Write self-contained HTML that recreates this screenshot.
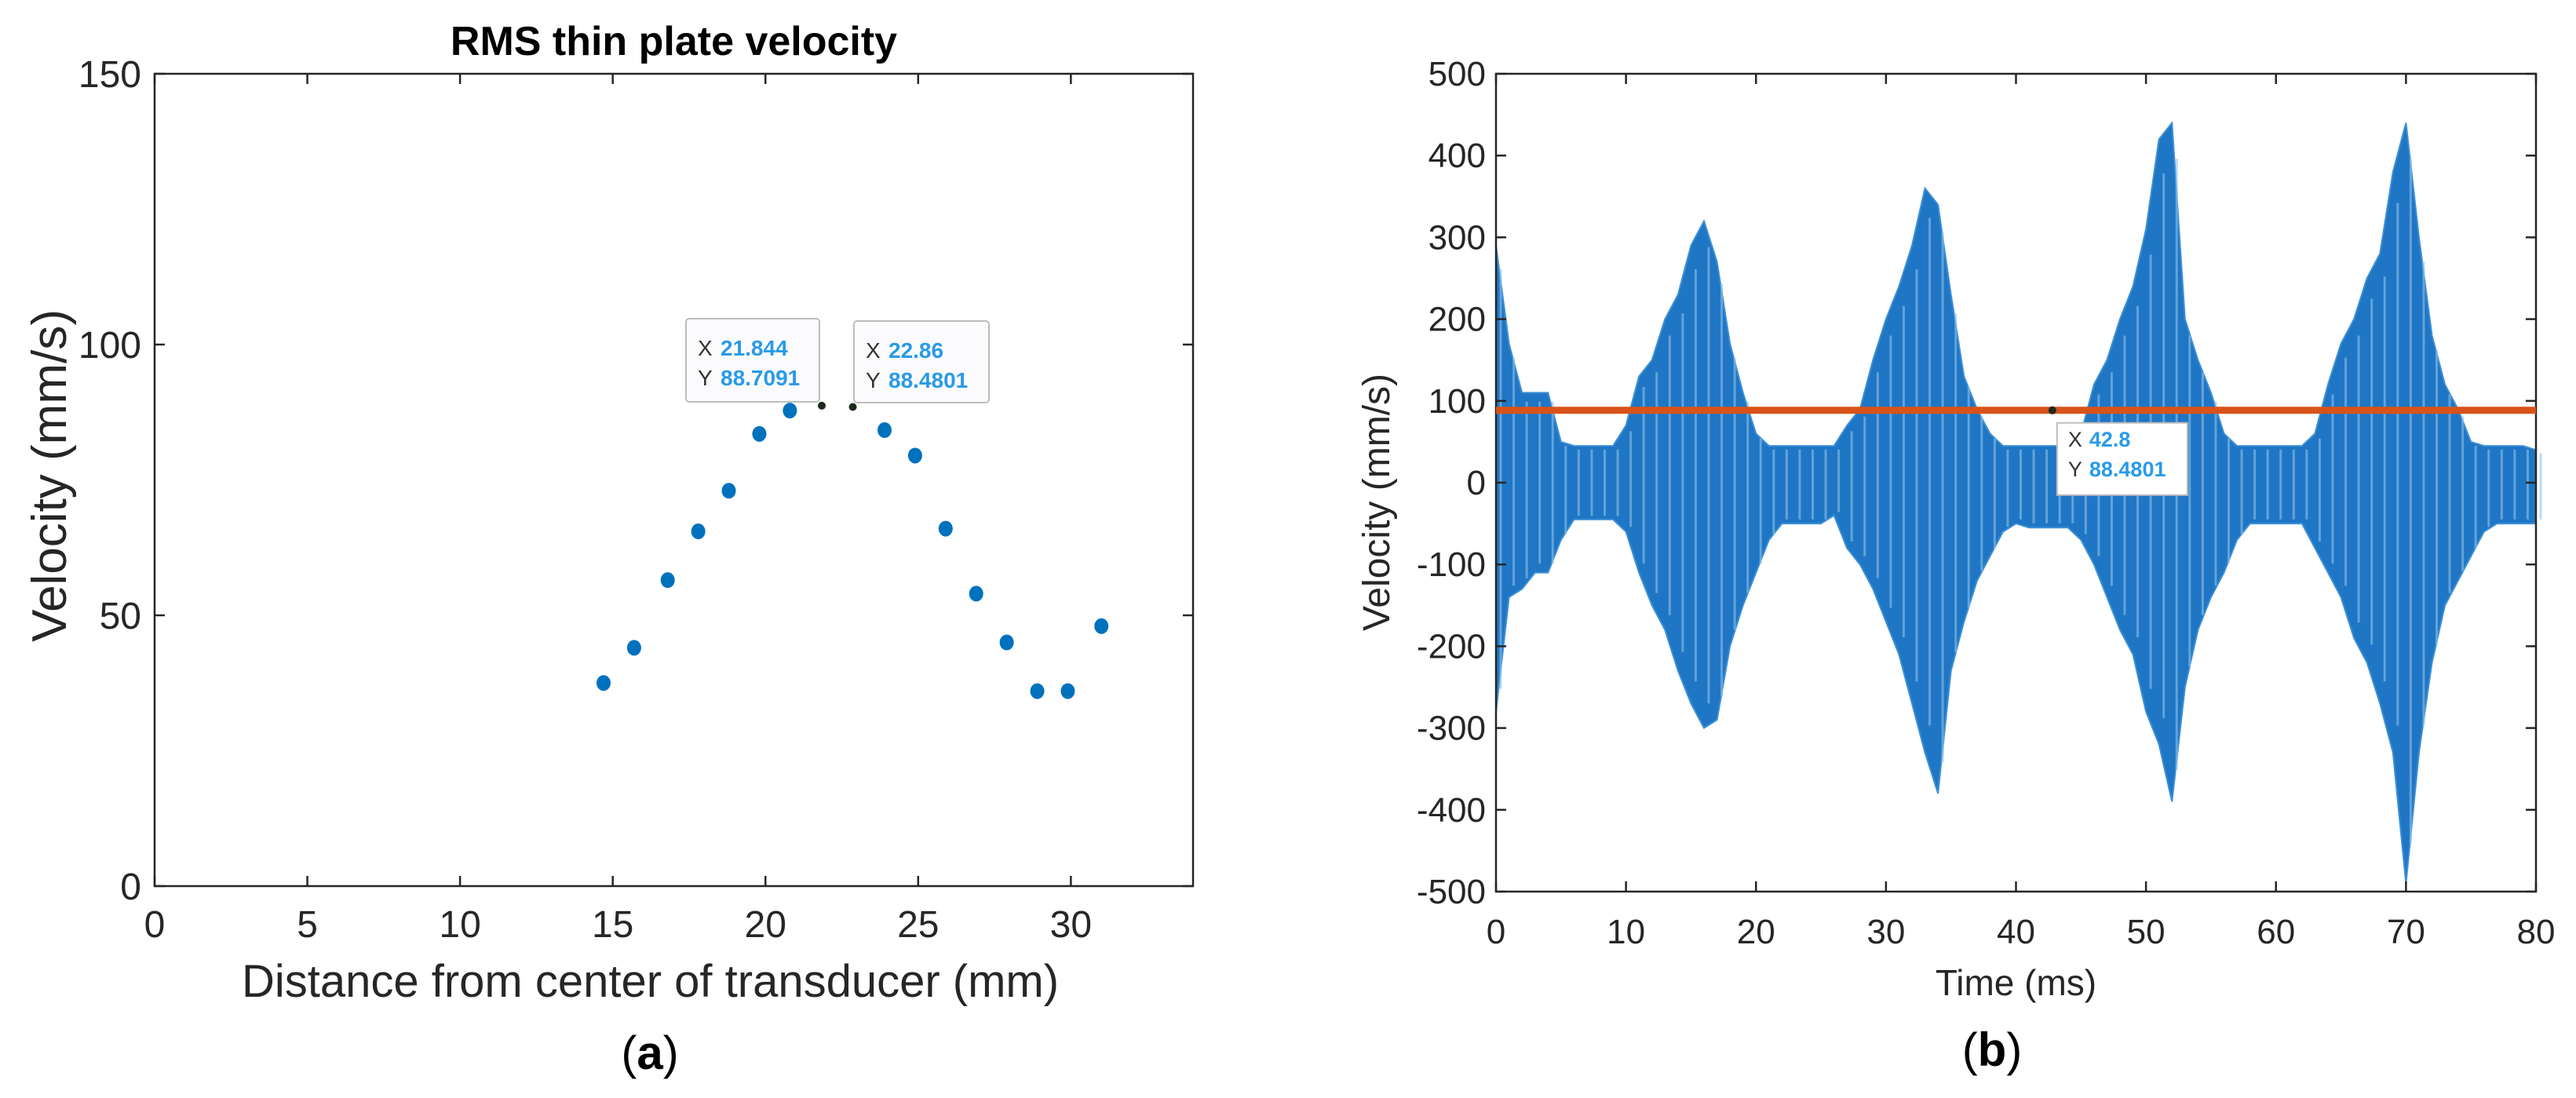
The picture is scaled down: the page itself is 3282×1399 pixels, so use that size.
<!DOCTYPE html>
<html><head><meta charset="utf-8">
<style>
html,body{margin:0;padding:0;background:#fff;}
svg{display:block;}
text{font-family:"Liberation Sans",Arial,sans-serif;}
</style></head>
<body>
<svg id="fig" width="3282" height="1399" viewBox="0 0 3282 1399" xmlns="http://www.w3.org/2000/svg">
  <rect width="3282" height="1399" fill="#fff"/>
  <g id="left"></g>
  <g id="right"></g>
</svg>
<script>
// ---------- Chart (a) data ----------
const distX = [14.7, 15.7, 16.8, 17.8, 18.8, 19.8, 20.8, 23.9, 24.9, 25.9, 26.9, 27.9, 28.9, 29.9, 31.0];
const rmsY  = [37.5, 44.0, 56.5, 65.5, 73.0, 83.5, 87.8, 84.2, 79.5, 66.0, 54.0, 45.0, 36.0, 36.0, 48.0];
const tipX  = [21.844, 22.86];
const tipY  = [88.7091, 88.4801];
const aXTicks = [0, 5, 10, 15, 20, 25, 30];
const aYTicks = [0, 50, 100, 150];

// ---------- Chart (b) data ----------
const timeMs = [0,1,2,3,4,5,6,7,8,9,10,11,12,13,14,15,16,17,18,19,20,21,22,23,24,25,26,27,28,29,30,31,32,33,34,35,36,37,38,39,40,41,42,43,44,45,46,47,48,49,50,51,52,53,54,55,56,57,58,59,60,61,62,63,64,65,66,67,68,69,70,71,72,73,74,75,76,77,78,79,80];
const envUpper = [290,170,110,110,110,50,45,45,45,45,70,130,150,200,230,290,320,270,170,110,60,45,45,45,45,45,45,70,90,150,200,240,290,360,340,230,130,90,60,45,45,45,45,45,45,60,120,150,200,240,310,420,440,200,150,110,60,45,45,45,45,45,45,60,120,170,200,250,280,380,440,300,180,120,90,50,45,45,45,45,40];
const envLower = [-280,-140,-130,-110,-110,-70,-45,-45,-45,-45,-60,-110,-150,-180,-230,-270,-300,-290,-200,-150,-110,-70,-50,-50,-50,-50,-40,-80,-100,-130,-170,-210,-270,-330,-380,-230,-170,-120,-90,-60,-50,-55,-55,-55,-55,-70,-100,-140,-180,-210,-280,-320,-390,-250,-180,-140,-110,-70,-50,-50,-50,-50,-50,-80,-110,-140,-190,-220,-270,-330,-490,-330,-220,-150,-120,-90,-60,-50,-50,-50,-50];
const rmsLevel = [88.4801];
const cursorX = [42.8];
const bXTicks = [0,10,20,30,40,50,60,70,80];
const bYTicks = [-500,-400,-300,-200,-100,0,100,200,300,400,500];

const NS = "http://www.w3.org/2000/svg";
function mk(parent, tag, attrs, txt){
  const e = document.createElementNS(NS, tag);
  for (const k in attrs) e.setAttribute(k, attrs[k]);
  if (txt !== undefined) e.textContent = txt;
  parent.appendChild(e);
  return e;
}

// ===== Chart (a) =====
(function(){
  const g = document.getElementById('left');
  const L=197, R=1520, T=94, B=1129, xmax=34, ymax=150;
  const sx = v => L + v/xmax*(R-L);
  const sy = v => B - v/ymax*(B-T);
  const title = mk(g,'text',{x:(L+R)/2, y:70, 'text-anchor':'middle','font-size':52,'font-weight':'bold',fill:'#000'},'RMS thin plate velocity');
  
  
  const box = mk(g,'rect',{x:L,y:T,width:R-L,height:B-T,fill:'none',stroke:'#262626','stroke-width':2.5});
  
  
  aXTicks.forEach(v=>{
    const x=sx(v);
    mk(g,'line',{x1:x,y1:B,x2:x,y2:B-13,stroke:'#262626','stroke-width':2.5});
    mk(g,'line',{x1:x,y1:T,x2:x,y2:T+13,stroke:'#262626','stroke-width':2.5});
    const t=mk(g,'text',{x:x,y:1194,'text-anchor':'middle','font-size':48,fill:'#262626'},String(v));
    
    
  });
  aYTicks.forEach(v=>{
    const y=sy(v);
    mk(g,'line',{x1:L,y1:y,x2:L+13,y2:y,stroke:'#262626','stroke-width':2.5});
    mk(g,'line',{x1:R,y1:y,x2:R-13,y2:y,stroke:'#262626','stroke-width':2.5});
    const t=mk(g,'text',{x:180,y:y+17,'text-anchor':'end','font-size':48,fill:'#262626'},String(v));
    
    
  });
  const xl=mk(g,'text',{x:(L+R)/2-30,y:1270,'text-anchor':'middle','font-size':58,fill:'#262626'},'Distance from center of transducer (mm)');
  
  
  const yl=mk(g,'text',{x:0,y:0,'text-anchor':'middle','font-size':62,fill:'#262626',transform:'translate(84,606) rotate(-90)'},'Velocity (mm/s)');
  
  
  distX.forEach((v,i)=>{
    const c=mk(g,'ellipse',{cx:sx(v),cy:sy(rmsY[i]),rx:9,ry:10,fill:'#0072BD'});
    
    
  });
  tipX.forEach((v,i)=>{
    const c=mk(g,'circle',{cx:sx(v),cy:sy(tipY[i]),r:5,fill:'#1d2a1d'});
    
    
  });
  const boxes=[[874,406,170,106],[1088,409,172,104]];
  tipX.forEach((v,i)=>{
    const b=boxes[i];
    const tg=mk(g,'g',{});
    
    
    mk(tg,'rect',{x:b[0],y:b[1],width:b[2],height:b[3],rx:4,fill:'#fbfbfd',stroke:'#bdbdbd','stroke-width':2});
    mk(tg,'text',{x:b[0]+15,y:b[1]+47,'font-size':28,fill:'#333'},'X');
    mk(tg,'text',{x:b[0]+44,y:b[1]+47,'font-size':28,'font-weight':'bold',fill:'#2a9ae8'},String(v));
    mk(tg,'text',{x:b[0]+15,y:b[1]+85,'font-size':28,fill:'#333'},'Y');
    mk(tg,'text',{x:b[0]+44,y:b[1]+85,'font-size':28,'font-weight':'bold',fill:'#2a9ae8'},String(tipY[i]));
  });
  const cap=mk(g,'text',{x:828,y:1362,'text-anchor':'middle','font-size':60,fill:'#000','font-family':'"Liberation Serif",serif'},'');
  
  
  mk(cap,'tspan',{},'(');
  mk(cap,'tspan',{'font-weight':'bold'},'a');
  mk(cap,'tspan',{},')');
})();

// ===== Chart (b) =====
(function(){
  const g = document.getElementById('right');
  const L=1906, R=3231, T=94, B=1136, xmin=0, xmax=80, ymin=-500, ymax=500;
  const sx = v => L + (v-xmin)/(xmax-xmin)*(R-L);
  const sy = v => B - (v-ymin)/(ymax-ymin)*(B-T);
  let d='M'+sx(timeMs[0])+','+sy(envUpper[0]);
  timeMs.forEach((t,i)=>{ d+=' L'+sx(t)+','+sy(envUpper[i]); });
  for(let i=timeMs.length-1;i>=0;i--){ d+=' L'+sx(timeMs[i])+','+sy(envLower[i]); }
  d+=' Z';
  const wf=mk(g,'path',{d:d,fill:'#1f76c4',stroke:'#3d8fd6','stroke-width':2});
  
  
  timeMs.forEach((t,i)=>{
    const ln=mk(g,'line',{x1:sx(t)+6,y1:sy(envUpper[i]*0.9),x2:sx(t)+6,y2:sy(envLower[i]*0.9),stroke:'#8fc1ea','stroke-width':3,opacity:0.6});
    
    
  });
  const box=mk(g,'rect',{x:L,y:T,width:R-L,height:B-T,fill:'none',stroke:'#262626','stroke-width':2.5});
  
  
  bXTicks.forEach(v=>{
    const x=sx(v);
    mk(g,'line',{x1:x,y1:B,x2:x,y2:B-13,stroke:'#262626','stroke-width':2.5});
    mk(g,'line',{x1:x,y1:T,x2:x,y2:T+13,stroke:'#262626','stroke-width':2.5});
    const t=mk(g,'text',{x:x,y:1202,'text-anchor':'middle','font-size':44,fill:'#262626'},String(v));
    
    
  });
  bYTicks.forEach(v=>{
    const y=sy(v);
    mk(g,'line',{x1:L,y1:y,x2:L+13,y2:y,stroke:'#262626','stroke-width':2.5});
    mk(g,'line',{x1:R,y1:y,x2:R-13,y2:y,stroke:'#262626','stroke-width':2.5});
    const t=mk(g,'text',{x:1893,y:y+15,'text-anchor':'end','font-size':44,fill:'#262626'},String(v));
    
    
  });
  const ry=sy(rmsLevel[0]);
  const rl=mk(g,'line',{x1:L,y1:ry,x2:R,y2:ry,stroke:'#D95319','stroke-width':9});
  
  
  const cx=sx(cursorX[0]);
  const mkr=mk(g,'circle',{cx:cx,cy:ry,r:5,fill:'#1d2a1d'});
  
  
  const tg=mk(g,'g',{});
  
  
  mk(tg,'rect',{x:cx+6,y:ry+16,width:166,height:92,fill:'#fff',stroke:'#bdbdbd','stroke-width':2});
  mk(tg,'text',{x:cx+20,y:ry+46,'font-size':27,fill:'#333'},'X');
  mk(tg,'text',{x:cx+47,y:ry+46,'font-size':27,'font-weight':'bold',fill:'#2a9ae8'},String(cursorX[0]));
  mk(tg,'text',{x:cx+20,y:ry+84,'font-size':27,fill:'#333'},'Y');
  mk(tg,'text',{x:cx+47,y:ry+84,'font-size':27,'font-weight':'bold',fill:'#2a9ae8'},String(rmsLevel[0]));
  const xl=mk(g,'text',{x:(L+R)/2,y:1268,'text-anchor':'middle','font-size':46,fill:'#262626'},'Time (ms)');
  
  
  const yl=mk(g,'text',{x:0,y:0,'text-anchor':'middle','font-size':48,fill:'#262626',transform:'translate(1770,640) rotate(-90)'},'Velocity (mm/s)');
  
  
  const cap=mk(g,'text',{x:2538,y:1358,'text-anchor':'middle','font-size':60,fill:'#000','font-family':'"Liberation Serif",serif'},'');
  
  
  mk(cap,'tspan',{},'(');
  mk(cap,'tspan',{'font-weight':'bold'},'b');
  mk(cap,'tspan',{},')');
})();
</script>
</body></html>
